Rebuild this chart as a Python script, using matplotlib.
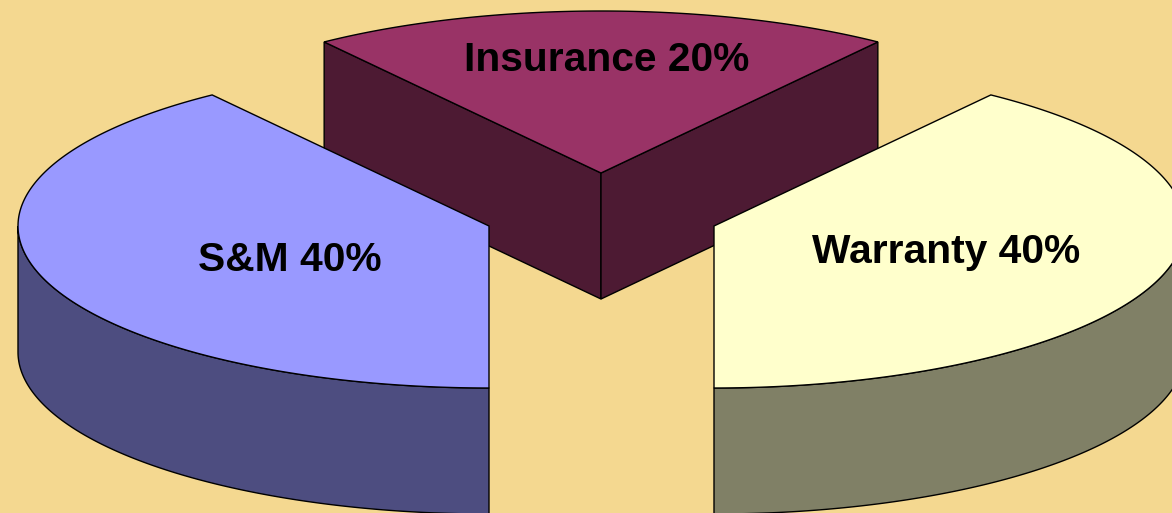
import numpy as np
import matplotlib
matplotlib.use('Agg')
import matplotlib.pyplot as plt
from matplotlib.patches import Polygon

labels = ['Insurance', 'Warranty', 'S&M']
shares = [20, 40, 40]
top_colors = ['#993366', '#ffffcc', '#9999ff']
side_colors = ['#4d1a33', '#808066', '#4d4d80']
centers = [(601, 173), (714, 226), (489, 226)]
text_pos = [(607, 60), (946, 252), (290, 260)]

rx, ry = 471, 162
depth = 126
start = -36  # degrees clockwise from straight up


def arc(cx, cy, a0, a1, n=200):
    t = np.radians(np.linspace(a0, a1, n))
    return np.column_stack([cx + rx * np.sin(t), cy - ry * np.cos(t)])


fig = plt.figure(figsize=(11.72, 5.13), dpi=100, facecolor='#f4d890')
ax = fig.add_axes([0, 0, 1, 1])
ax.set_xlim(0, 1172)
ax.set_ylim(513, 0)
ax.axis('off')

edges = start + np.cumsum([0] + shares) * 3.6
for i in range(len(shares)):
    a0, a1 = edges[i], edges[i + 1]
    cx, cy = centers[i]
    pts = arc(cx, cy, a0, a1)
    apex = np.array([[cx, cy]])
    down = np.array([0, depth])

    # outer rim, only the part facing the viewer (90..270 deg)
    lo, hi = max(a0, 90), min(a1, 270)
    if lo < hi:
        rim = arc(cx, cy, lo, hi)
        ax.add_patch(Polygon(np.vstack([rim, (rim + down)[::-1]]), closed=True,
                             fc=side_colors[i], ec='black', lw=1, zorder=i * 3 + 1))

    # cut faces, drawn only when they look toward the viewer
    if i == 0:
        for p in (pts[0], pts[-1]):
            face = np.array([apex[0], p, p + down, apex[0] + down])
            ax.add_patch(Polygon(face, closed=True, fc=side_colors[i], ec='black',
                                 lw=1, zorder=i * 3 + 1))

    ax.add_patch(Polygon(np.vstack([apex, pts]), closed=True, fc=top_colors[i],
                         ec='black', lw=1, zorder=i * 3 + 2))
    ax.text(text_pos[i][0], text_pos[i][1], f'{labels[i]} {shares[i]}%',
            family='Liberation Sans', weight='bold', fontsize=29.3,
            ha='center', va='center', color='black', zorder=20)

fig.savefig('out.png', dpi=100, facecolor=fig.get_facecolor())
